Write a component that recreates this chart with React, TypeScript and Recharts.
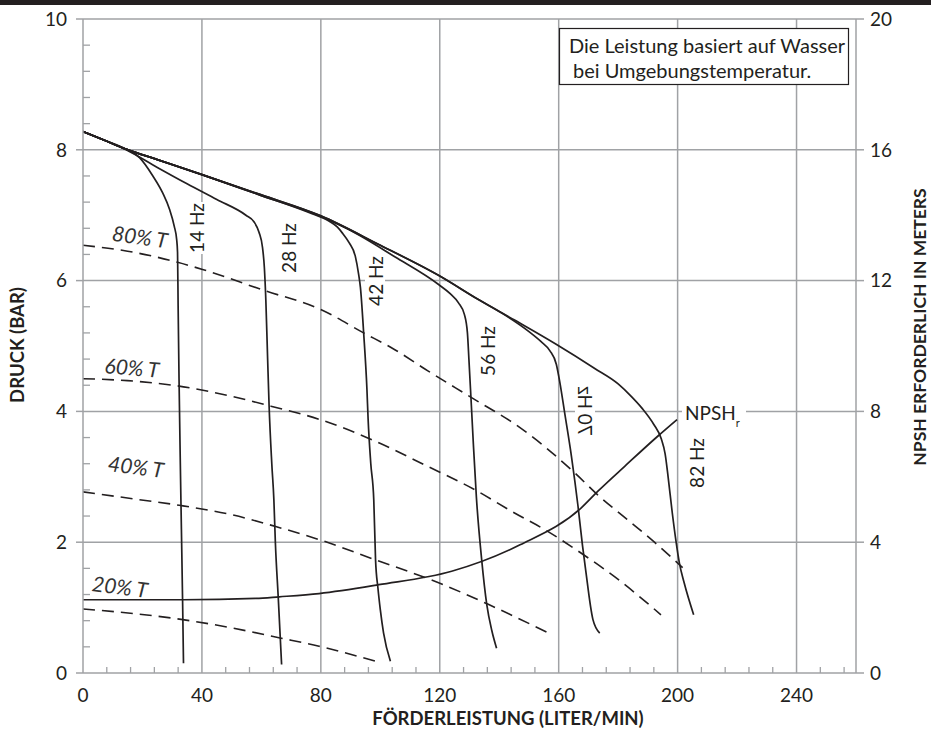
import { LineChart, Line, XAxis, YAxis, CartesianGrid } from "recharts";

// axis ticks
const flowTicks = [
  0, 8, 16, 24, 32, 40, 48, 56, 64, 72, 80, 88, 96, 104, 112, 120, 128, 136,
  144, 152, 160, 168, 176, 184, 192, 200, 208, 216, 224, 232, 240, 248, 256,
];
const flowGrid = [40, 80, 120, 160, 200, 240];
const pressureTicks = [
  0, 0.4, 0.8, 1.2, 1.6, 2, 2.4, 2.8, 3.2, 3.6, 4, 4.4, 4.8, 5.2, 5.6, 6, 6.4,
  6.8, 7.2, 7.6, 8, 8.4, 8.8, 9.2, 9.6, 10,
];
const pressureGrid = [2, 4, 6, 8, 10];
const npshTicks = [0, 4, 8, 12, 16, 20];

// pump curves: q = L/min, p = bar
const hz14 = [
  { q: 0, p: 8.28 }, { q: 7, p: 8.15 }, { q: 14.5, p: 8.01 }, { q: 19, p: 7.88 },
  { q: 23.5, p: 7.6 }, { q: 26.8, p: 7.34 }, { q: 29.1, p: 7.09 }, { q: 30.7, p: 6.83 },
  { q: 31.5, p: 6.63 }, { q: 31.8, p: 6.43 }, { q: 32.0, p: 5.6 }, { q: 32.3, p: 4.5 },
  { q: 32.7, p: 3.3 }, { q: 33.1, p: 2.2 }, { q: 33.5, p: 1.1 }, { q: 33.8, p: 0.15 },
];
const hz28 = [
  { q: 0, p: 8.28 }, { q: 7, p: 8.15 }, { q: 14.5, p: 8.0 }, { q: 25, p: 7.73 },
  { q: 35, p: 7.48 }, { q: 45, p: 7.24 }, { q: 54.8, p: 7.0 }, { q: 57.5, p: 6.9 },
  { q: 59.2, p: 6.74 }, { q: 60.4, p: 6.5 }, { q: 61, p: 6.2 }, { q: 61.5, p: 5.7 },
  { q: 62.1, p: 4.8 }, { q: 62.6, p: 4.08 }, { q: 63.5, p: 3.2 }, { q: 64.2, p: 2.65 },
  { q: 64.7, p: 2.0 }, { q: 65.7, p: 1.13 }, { q: 66.8, p: 0.13 },
];
const hz42 = [
  { q: 0, p: 8.28 }, { q: 7, p: 8.15 }, { q: 14.5, p: 8.01 }, { q: 25, p: 7.85 },
  { q: 40, p: 7.62 }, { q: 60, p: 7.3 }, { q: 76, p: 7.04 }, { q: 82.7, p: 6.91 },
  { q: 85.5, p: 6.82 }, { q: 87.2, p: 6.73 }, { q: 89.5, p: 6.58 }, { q: 91.6, p: 6.37 },
  { q: 92.7, p: 6.1 }, { q: 93.3, p: 5.9 }, { q: 94.4, p: 5.2 }, { q: 95.5, p: 4.34 },
  { q: 95.9, p: 3.88 }, { q: 96.8, p: 3.2 }, { q: 97.8, p: 2.65 }, { q: 98.4, p: 1.73 },
  { q: 99.2, p: 1.3 }, { q: 100, p: 0.97 }, { q: 101.1, p: 0.61 }, { q: 103.4, p: 0.18 },
];
const hz56 = [
  { q: 0, p: 8.28 }, { q: 7, p: 8.15 }, { q: 14.5, p: 8.01 }, { q: 25, p: 7.85 },
  { q: 40, p: 7.62 }, { q: 60, p: 7.3 }, { q: 80, p: 6.98 }, { q: 89.4, p: 6.78 },
  { q: 105, p: 6.36 }, { q: 119.6, p: 5.94 }, { q: 123.5, p: 5.8 }, { q: 126.3, p: 5.66 },
  { q: 128.3, p: 5.48 }, { q: 129.3, p: 5.2 }, { q: 129.8, p: 4.8 }, { q: 130.5, p: 4.2 },
  { q: 131.3, p: 3.5 }, { q: 132.3, p: 2.7 }, { q: 134.1, p: 1.73 }, { q: 135.8, p: 1.05 },
  { q: 137.5, p: 0.65 }, { q: 139.1, p: 0.38 },
];
const hz70 = [
  { q: 0, p: 8.28 }, { q: 7, p: 8.15 }, { q: 14.5, p: 8.01 }, { q: 25, p: 7.85 },
  { q: 40, p: 7.62 }, { q: 60, p: 7.31 }, { q: 80, p: 6.99 }, { q: 100, p: 6.54 },
  { q: 120, p: 6.07 }, { q: 133, p: 5.71 }, { q: 141, p: 5.5 }, { q: 150, p: 5.22 },
  { q: 154, p: 5.07 }, { q: 157, p: 4.93 }, { q: 159.2, p: 4.72 }, { q: 160.4, p: 4.44 },
  { q: 162, p: 3.98 }, { q: 164.3, p: 3.31 }, { q: 166.5, p: 2.55 }, { q: 168, p: 1.95 },
  { q: 169, p: 1.6 }, { q: 171.5, p: 0.82 }, { q: 173.8, p: 0.61 },
];
const hz82 = [
  { q: 0, p: 8.28 }, { q: 7, p: 8.15 }, { q: 14.5, p: 8.01 }, { q: 25, p: 7.85 },
  { q: 40, p: 7.62 }, { q: 60, p: 7.31 }, { q: 80, p: 6.99 }, { q: 100, p: 6.54 },
  { q: 120, p: 6.07 }, { q: 133, p: 5.71 }, { q: 145, p: 5.4 }, { q: 159, p: 5.03 },
  { q: 172, p: 4.66 }, { q: 180, p: 4.42 }, { q: 184.4, p: 4.23 }, { q: 188, p: 4.05 },
  { q: 192, p: 3.8 }, { q: 194.5, p: 3.58 }, { q: 195.8, p: 3.35 }, { q: 196.8, p: 3.0 },
  { q: 198.2, p: 2.45 }, { q: 199.5, p: 2.0 }, { q: 200.6, p: 1.68 }, { q: 202.2, p: 1.38 },
  { q: 205.4, p: 0.89 },
];

// constant torque lines (dashed)
const t80 = [
  { q: 0, p: 6.54 }, { q: 15, p: 6.45 }, { q: 31.8, p: 6.28 }, { q: 40.2, p: 6.17 },
  { q: 60.9, p: 5.85 }, { q: 79.9, p: 5.56 }, { q: 94.4, p: 5.2 }, { q: 103.9, p: 4.97 },
  { q: 116, p: 4.62 }, { q: 130.7, p: 4.21 }, { q: 146.4, p: 3.77 }, { q: 165.4, p: 3.06 },
  { q: 173.2, p: 2.72 }, { q: 183, p: 2.35 }, { q: 192.2, p: 2.0 }, { q: 201.7, p: 1.61 },
];
const t60 = [
  { q: 0, p: 4.5 }, { q: 15, p: 4.47 }, { q: 31.8, p: 4.39 }, { q: 50, p: 4.23 },
  { q: 63.2, p: 4.08 }, { q: 79.4, p: 3.88 }, { q: 99.5, p: 3.52 }, { q: 115, p: 3.18 },
  { q: 131.9, p: 2.8 }, { q: 145, p: 2.45 }, { q: 155.4, p: 2.19 }, { q: 167, p: 1.85 },
  { q: 180, p: 1.43 }, { q: 194.4, p: 0.89 },
];
const t40 = [
  { q: 0, p: 2.77 }, { q: 19, p: 2.65 }, { q: 33, p: 2.56 }, { q: 50, p: 2.42 },
  { q: 64.8, p: 2.24 }, { q: 79.4, p: 2.04 }, { q: 98.4, p: 1.73 }, { q: 119.6, p: 1.38 },
  { q: 136.3, p: 1.05 }, { q: 157.6, p: 0.59 },
];
const t20 = [
  { q: 0, p: 0.98 }, { q: 33, p: 0.82 }, { q: 50, p: 0.69 }, { q: 65.9, p: 0.54 },
  { q: 79.4, p: 0.41 }, { q: 98.4, p: 0.18 },
];

// NPSHr, metres (right axis)
const npsh = [
  { q: 0, m: 2.24 }, { q: 33.5, m: 2.24 }, { q: 58.1, m: 2.28 }, { q: 66, m: 2.33 },
  { q: 79.4, m: 2.43 }, { q: 99.5, m: 2.7 }, { q: 124, m: 3.11 }, { q: 147, m: 3.92 },
  { q: 167.6, m: 5.05 }, { q: 173.2, m: 5.56 }, { q: 182.2, m: 6.32 }, { q: 193.3, m: 7.24 },
  { q: 199.8, m: 7.75 },
];

const hzCurves = [hz14, hz28, hz42, hz56, hz70, hz82];
const torqueCurves = [t80, t60, t40, t20];

const INK = "#231f20";
const GRID = "#a0a2a5";
const FONT = "Lato, 'Open Sans', sans-serif";

function FlowTick({ x, y, payload }: any) {
  const v = payload.value;
  if (v % 40 === 0) {
    return (
      <text x={x} y={y + 29} textAnchor="middle" fontSize={19} fill={INK} fontFamily={FONT}>
        {v}
      </text>
    );
  }
  return <line x1={x} x2={x} y1={y} y2={y - 6} stroke={GRID} strokeWidth={1.3} />;
}

function PressureTick({ x, y, payload }: any) {
  const v = payload.value;
  const major = Math.abs(v / 2 - Math.round(v / 2)) < 1e-6;
  if (major) {
    return (
      <g>
        <line x1={x - 7} x2={x} y1={y} y2={y} stroke={GRID} strokeWidth={1.5} />
        <text x={x - 16} y={y} dy="0.36em" textAnchor="end" fontSize={19} fill={INK} fontFamily={FONT}>
          {Math.round(v)}
        </text>
      </g>
    );
  }
  return <line x1={x} x2={x + 7} y1={y} y2={y} stroke={GRID} strokeWidth={1.3} />;
}

function HzLabel({ x, y, text, flip }: { x: number; y: number; text: string; flip?: boolean }) {
  return (
    <g transform={`translate(${x},${y}) rotate(-90)${flip ? " scale(1,-1)" : ""}`}>
      <rect x={-26} y={-10} width={52} height={20} fill="#fff" />
      <text textAnchor="middle" dominantBaseline="central" fontSize={19} fill={INK} fontFamily={FONT}>
        {text}
      </text>
    </g>
  );
}

function TLabel({ x, y, text, angle }: { x: number; y: number; text: string; angle: number }) {
  return (
    <text
      transform={`translate(${x},${y}) rotate(${angle})`}
      textAnchor="middle"
      dominantBaseline="central"
      fontSize={21}
      fontStyle="italic"
      fill="#333"
      fontFamily={FONT}
    >
      {text}
    </text>
  );
}

export default function App() {
  return (
    <div style={{ position: "absolute", left: 0, top: 0, width: 931, height: 742, background: "#fff" }}>
      <LineChart width={931} height={742} margin={{ top: 19, right: 0, bottom: 0, left: 0 }}>
        <CartesianGrid
          yAxisId="left"
          horizontalValues={pressureGrid}
          verticalValues={flowGrid}
          stroke={GRID}
          strokeWidth={1.5}
        />
        <XAxis
          dataKey="q"
          type="number"
          domain={[0, 260]}
          ticks={flowTicks}
          interval={0}
          tick={FlowTick}
          tickLine={false}
          tickSize={0}
          tickMargin={0}
          height={69}
          axisLine={{ stroke: GRID, strokeWidth: 1.5 }}
          allowDataOverflow
        />
        <YAxis
          yAxisId="left"
          type="number"
          domain={[0, 10]}
          ticks={pressureTicks}
          interval={0}
          tick={PressureTick}
          tickLine={false}
          tickSize={0}
          tickMargin={0}
          width={83}
          axisLine={{ stroke: GRID, strokeWidth: 1.5 }}
        />
        <YAxis
          yAxisId="right"
          orientation="right"
          type="number"
          domain={[0, 20]}
          ticks={npshTicks}
          interval={0}
          tickSize={8}
          tickMargin={6}
          width={75}
          tickLine={{ stroke: GRID, strokeWidth: 1.5 }}
          axisLine={{ stroke: GRID, strokeWidth: 1.5 }}
          tick={{ fontSize: 19, fill: INK, fontFamily: FONT }}
        />
        {torqueCurves.map((d, i) => (
          <Line
            key={`t${i}`}
            yAxisId="left"
            data={d}
            dataKey="p"
            type="monotone"
            stroke={INK}
            strokeWidth={1.6}
            strokeDasharray="12 7"
            dot={false}
            isAnimationActive={false}
          />
        ))}
        {hzCurves.map((d, i) => (
          <Line
            key={`h${i}`}
            yAxisId="left"
            data={d}
            dataKey="p"
            type="monotone"
            stroke={INK}
            strokeWidth={1.7}
            dot={false}
            isAnimationActive={false}
          />
        ))}
        <Line
          yAxisId="right"
          data={npsh}
          dataKey="m"
          type="monotone"
          stroke={INK}
          strokeWidth={1.7}
          dot={false}
          isAnimationActive={false}
        />
      </LineChart>

      <svg
        width={931}
        height={742}
        style={{ position: "absolute", left: 0, top: 0, pointerEvents: "none" }}
      >
        <rect x={0} y={0} width={931} height={5} fill={INK} />

        <rect x={559.5} y={28.5} width={289} height={56} fill="#fff" stroke={INK} strokeWidth={1.2} />
        <text x={569} y={53} fontSize={20} fill={INK} fontFamily={FONT}>
          Die Leistung basiert auf Wasser
        </text>
        <text x={573} y={78} fontSize={20} fill={INK} fontFamily={FONT}>
          bei Umgebungstemperatur.
        </text>

        <HzLabel x={196} y={228} text="14 Hz" />
        <HzLabel x={288} y={248} text="28 Hz" />
        <HzLabel x={375} y={281} text="42 Hz" />
        <HzLabel x={487} y={351} text="56 Hz" />
        <HzLabel x={585} y={411} text="70 Hz" flip />
        <HzLabel x={696} y={463} text="82 Hz" />

        <rect x={682} y={403} width={64} height={27} fill="#fff" />
        <text x={685} y={420} fontSize={19} fill={INK} fontFamily={FONT}>
          NPSH
          <tspan fontSize={11} dy={7}>r</tspan>
        </text>

        <TLabel x={140} y={236} text="80% T" angle={8} />
        <TLabel x={132} y={367} text="60% T" angle={5} />
        <TLabel x={136} y={466} text="40% T" angle={7} />
        <TLabel x={120} y={586} text="20% T" angle={7} />

        <text
          transform="translate(17,345) rotate(-90)"
          textAnchor="middle"
          dominantBaseline="central"
          fontSize={18.5}
          fontWeight="bold"
          fill={INK}
          fontFamily={FONT}
        >
          DRUCK (BAR)
        </text>
        <text
          transform="translate(919,327) rotate(-90)"
          textAnchor="middle"
          dominantBaseline="central"
          fontSize={17.5}
          fontWeight="bold"
          fill={INK}
          fontFamily={FONT}
        >
          NPSH ERFORDERLICH IN METERS
        </text>
        <text x={508} y={725} textAnchor="middle" fontSize={18.5} fontWeight="bold" fill={INK} fontFamily={FONT}>
          FÖRDERLEISTUNG (LITER/MIN)
        </text>
      </svg>
    </div>
  );
}
